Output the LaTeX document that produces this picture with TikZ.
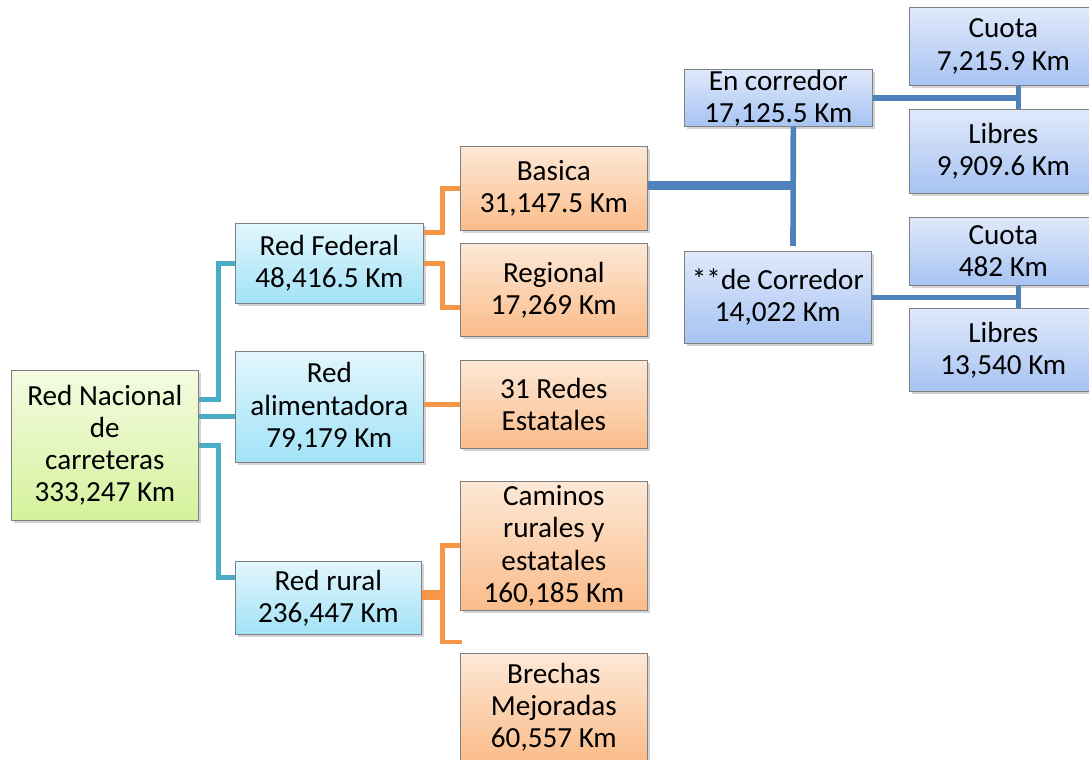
\documentclass[tikz,border=0pt]{standalone}
\usepackage{fontspec}
\setmainfont{Carlito}
\usetikzlibrary{shadows}
\definecolor{TealLn}{HTML}{4BACC6}
\definecolor{OrgLn}{HTML}{F79646}
\definecolor{BluLn}{HTML}{4F81BD}
\definecolor{GrnTop}{HTML}{F4FBE2}
\definecolor{GrnBot}{HTML}{D5F29C}
\definecolor{CynTop}{HTML}{E2F6FD}
\definecolor{CynBot}{HTML}{A2E2F7}
\definecolor{OrgTop}{HTML}{FDE8D6}
\definecolor{OrgBot}{HTML}{FABC8A}
\definecolor{PrwTop}{HTML}{E0E9FB}
\definecolor{PrwBot}{HTML}{A6C3F2}

\begin{document}
\begin{tikzpicture}[x = 0.02cm, y = -0.02cm,
  box/.style = {draw=black!50, rectangle, anchor=north west, align=center, inner sep=2pt,
    minimum width=3.76cm, font=\fontsize{16.6}{18.3}\selectfont,
    drop shadow={shadow xshift=1.6pt, shadow yshift=-1.6pt, opacity=0.35}},
  grnbox/.style = {box, top color=GrnTop, bottom color=GrnBot},
  cynbox/.style = {box, top color=CynTop, bottom color=CynBot},
  orgbox/.style = {box, top color=OrgTop, bottom color=OrgBot},
  prwbox/.style = {box, top color=PrwTop, bottom color=PrwBot},
  tealln/.style = {line width=2.8pt, TealLn},
  orgln/.style = {line width=2.8pt, OrgLn},
  bluln/.style = {line width=3.2pt, BluLn},
  bluthk/.style = {line width=5pt, BluLn}]
\useasboundingbox (0,0) rectangle (1089,760);
\node[grnbox, minimum width=3.74cm, minimum height=3cm] (root) at (11,370) {Red Nacional\\de\\carreteras\\333,247 Km};
\node[cynbox, minimum height=1.6cm] (fed) at (235,223) {Red Federal\\48,416.5 Km};
\node[cynbox, minimum height=2.22cm] (ali) at (235,351) {Red\\alimentadora\\79,179 Km};
\node[cynbox, minimum width=3.72cm, minimum height=1.46cm] (rur) at (235,561) {Red rural\\236,447 Km};
\node[orgbox, minimum width=3.74cm, minimum height=1.68cm] (bas) at (460,146) {Basica\\31,147.5 Km};
\node[orgbox, minimum width=3.74cm, minimum height=1.86cm] (reg) at (460,243) {Regional\\17,269 Km};
\node[orgbox, minimum width=3.74cm, minimum height=1.76cm] (est) at (460,360) {31 Redes\\Estatales};
\node[orgbox, minimum width=3.74cm, minimum height=2.58cm] (cam) at (460,481) {Caminos\\rurales y\\estatales\\160,185 Km};
\node[orgbox, minimum width=3.74cm, minimum height=2.16cm] (bre) at (460,653) {Brechas\\Mejoradas\\60,557 Km};
\node[prwbox, inner ysep=-1.5pt, minimum height=1.14cm] (enc) at (684,69) {En corredor\\17,125.5 Km};
\node[prwbox, minimum width=3.74cm, minimum height=1.84cm] (dec) at (684,251) {**de Corredor\\14,022 Km};
\node[prwbox, minimum height=1.56cm] (cu1) at (909,7) {Cuota\\7,215.9 Km};
\node[prwbox, minimum height=1.68cm] (li1) at (909,109) {Libres\\9,909.6 Km};
\node[prwbox, minimum height=1.36cm] (cu2) at (909,217) {Cuota\\482 Km};
\node[prwbox, minimum height=1.66cm] (li2) at (909,308) {Libres\\13,540 Km};

\draw[tealln] (root.26) -- ++(20,0) |- (fed.west);
\draw[tealln] (root.17) -- (root.17 -| ali.west);
\draw[tealln] (root.east) -- ++(20,0) |- ([yshift=0.4cm]rur.west);

\coordinate (bend) at (462,642);
\draw[orgln] ([yshift=0.62cm]fed.east) -- ++(19,0) |- (bas.west);
\draw[orgln] (fed.east) -- ++(19,0) |- ([yshift=-0.35cm]reg.west);
\draw[orgln] (est.west -| ali.east) -- (est.west);
\draw[orgln] ([yshift=0.1cm]rur.east) -- ++(21,0) |- (cam.west);
\draw[orgln] (rur.east) -- ++(21,0) |- (bend);

\coordinate (cend) at (793,246);
\draw[bluln] ([xshift=0.3cm]enc.south) -- (cend);
\draw[bluthk] ([yshift=0.06cm]bas.east) -- ([yshift=0.06cm]bas.east -| cend);
\coordinate (j1) at ([xshift=0.3cm]cu1.south);
\draw[bluln] (enc.east) -- (enc.east -| j1);
\draw[bluln] (j1) -- (j1 |- li1.north);
\coordinate (j2) at ([xshift=0.3cm]cu2.south);
\draw[bluln] (dec.east) -- (dec.east -| j2);
\draw[bluln] (j2) -- (j2 |- li2.north);
\end{tikzpicture}
\end{document}
